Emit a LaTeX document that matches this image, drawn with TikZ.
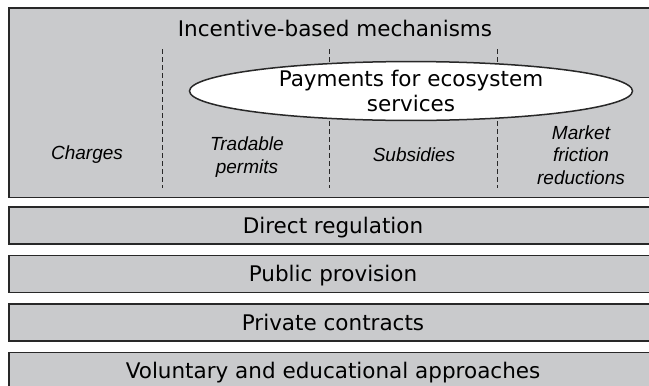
\documentclass[tikz,border=0pt]{standalone}
\usepackage{fontspec}
\setmainfont{DejaVu Sans}
\newfontfamily\armfont{Liberation Sans}
\usetikzlibrary{shapes.geometric, positioning}
\definecolor{boxgray}{RGB}{201,202,204}
\definecolor{edgegray}{RGB}{40,40,40}

\begin{document}
\begin{tikzpicture}[x=1pt, y=-1pt, node distance=48.5pt, on grid,
    panel/.style={draw=edgegray, line width=1.5pt, fill=boxgray, inner sep=0pt},
    band/.style={panel, minimum width=648pt, minimum height=37pt,
      text height=15.5pt, text depth=0pt, font=\fontsize{21.5}{25}\selectfont},
    tool/.style={align=center, font=\armfont\itshape\fontsize{19}{22.5}\selectfont},
    divider/.style={draw=edgegray, line width=0.9pt, dash pattern=on 5pt off 3pt}]
  \useasboundingbox (0,0) rectangle (649,386);
  \clip (0,0) rectangle (649,386);
  % incentive-based block
  \node [panel, minimum width=648pt, minimum height=189.5pt] (ibm) at (333,102.75) {};
  \node [anchor=base, font=\fontsize{21.5}{25}\selectfont] (title) at (335,36) {Incentive-based mechanisms};
  \foreach \x in {162,329,497}
    \draw [divider] (\x,49) -- (\x,188);
  \node [tool] (charges) at (87,155) {Charges};
  \node [tool] (permits) at (247,157) {Tradable\\permits};
  \node [tool] (subsidies) at (414,155) {Subsidies};
  \node [tool] (friction) at (581,155) {Market\\friction\\reductions};
  \node [ellipse, draw=edgegray, line width=1.5pt, fill=white, inner sep=0pt,
    minimum width=443pt, minimum height=58pt, align=center,
    font=\fontsize{21.5}{25}\selectfont] (pes) at (411,91) {Payments for ecosystem\\services};
  % other instruments
  \node [band] (direct) at (333,225.5) {Direct regulation};
  \node [band, below=of direct] (public) {Public provision};
  \node [band, below=of public] (private) {Private contracts};
  \node [band, below=of private] (voluntary) {Voluntary and educational approaches};
\end{tikzpicture}
\end{document}
